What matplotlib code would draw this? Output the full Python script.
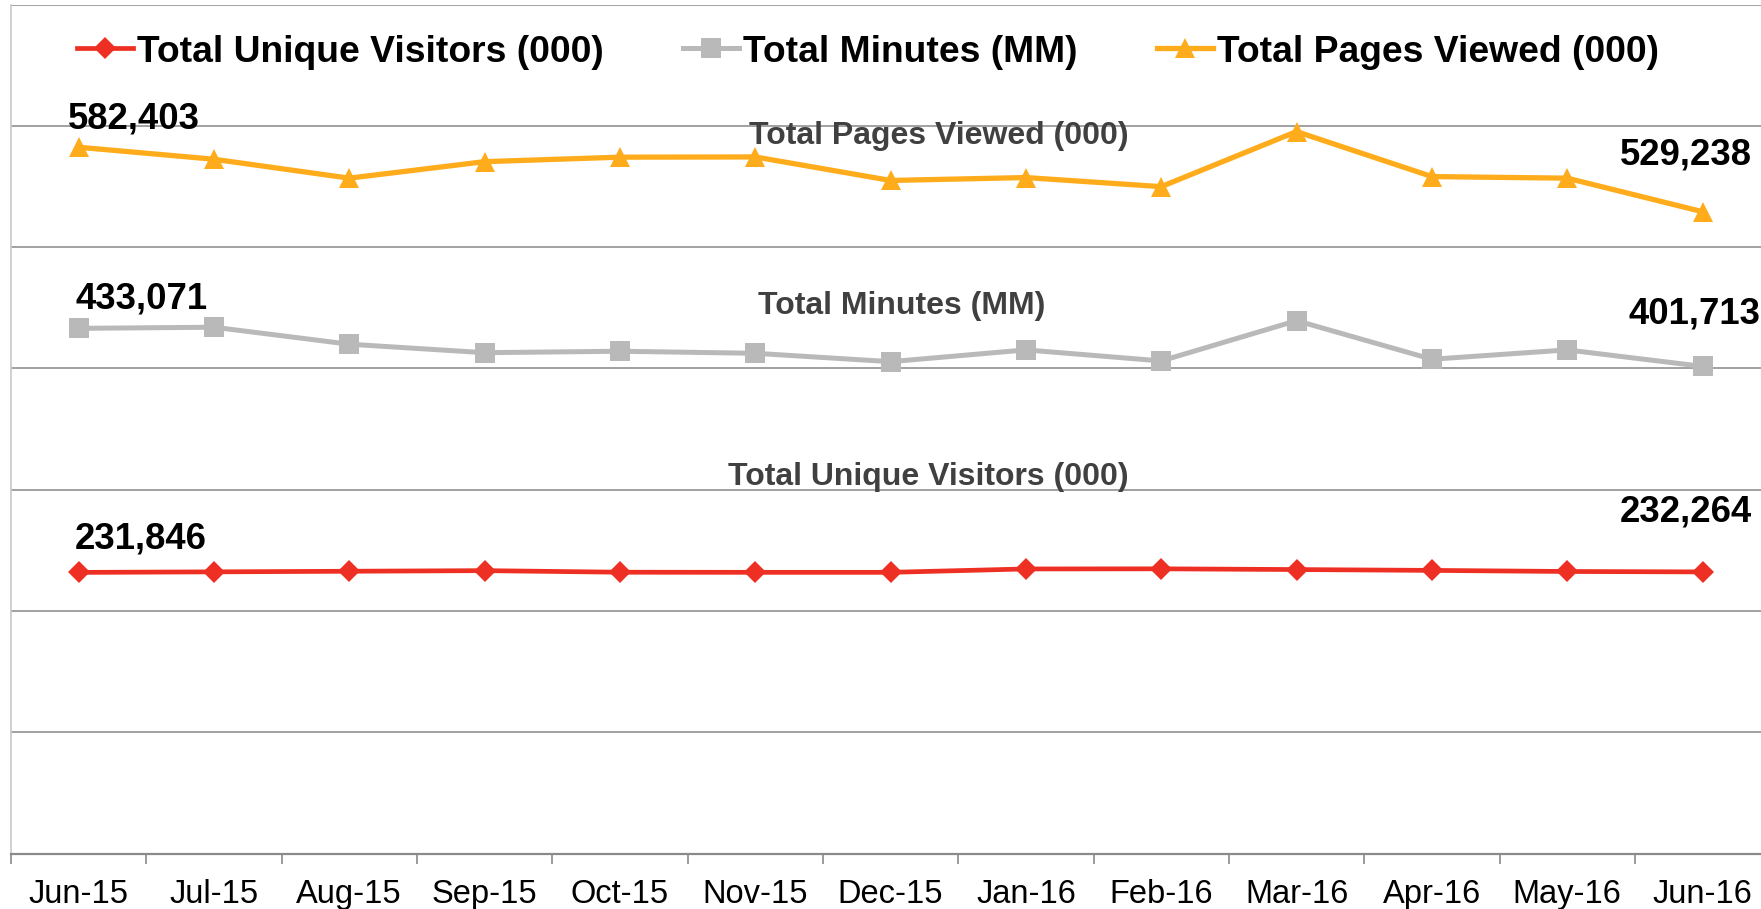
import matplotlib
matplotlib.use("Agg")
import matplotlib.pyplot as plt

plt.rcParams['font.family'] = ['Liberation Sans', 'DejaVu Sans']

months = ["Jun-15", "Jul-15", "Aug-15", "Sep-15", "Oct-15", "Nov-15", "Dec-15",
          "Jan-16", "Feb-16", "Mar-16", "Apr-16", "May-16", "Jun-16"]
visitors = [231846, 232300, 232800, 233300, 232000, 231900, 231900,
            234700, 234800, 234200, 233500, 232600, 232264]
minutes = [433071, 434000, 420000, 413000, 414200, 412500, 405600,
           415300, 406200, 439400, 407600, 415300, 401713]
pages = [582403, 572500, 556900, 570500, 574200, 574400, 555000,
         557400, 549900, 595300, 558200, 556900, 529238]
series_names = ["Total Unique Visitors (000)", "Total Minutes (MM)", "Total Pages Viewed (000)"]
grid_values = [100000, 200000, 300000, 400000, 500000, 600000, 700000]

RED = "#EE3024"
GRAY = "#B9B9B9"
ORANGE = "#FFAC1C"

W, H = 1761, 909
fig = plt.figure(figsize=(W / 100, H / 100), dpi=100)
left_px, right_px = 10.9, 1770.2
bottom_px, top_px = 853.6, 4.6
ax = fig.add_axes([left_px / W, 1 - bottom_px / H, (right_px - left_px) / W, (bottom_px - top_px) / H])

x = list(range(len(months)))
styles = [
    (visitors, RED, "D", 11, 3.4),
    (minutes, GRAY, "s", 14, 3.6),
    (pages, ORANGE, "^", 15, 3.8),
]
handles = []
for (vals, col, mk, ms, lw), name in zip(styles, series_names):
    ln, = ax.plot(x, vals, color=col, marker=mk, markersize=ms, linewidth=lw,
                  markeredgewidth=0, zorder=3, label=name)
    handles.append(ln)

ax.set_xlim(-0.5, len(months) - 0.5)
ax.set_ylim(0, 700000)

for g in grid_values:
    ax.axhline(g, color="#9A9A9A", linewidth=1.3, zorder=1)

ax.set_yticks([])
ax.set_xticks([i - 0.5 for i in range(len(months) + 1)])
ax.set_xticklabels([])
ax.set_xticks(x, minor=True)
ax.set_xticklabels(months, minor=True, fontsize=23.5)
ax.tick_params(axis="x", which="major", length=7, width=1.2, color="#8A8A8A", direction="out")
ax.tick_params(axis="x", which="minor", length=0, pad=18)
for s in ["top", "right"]:
    ax.spines[s].set_visible(False)
ax.spines["bottom"].set_color("#8A8A8A")
ax.spines["bottom"].set_linewidth(1.6)
ax.spines["left"].set_color("#C8C8C8")
ax.spines["left"].set_linewidth(1.2)

# value labels at first and last points
lab_first = [(-3.4, 33), (-3.4, 29), (-11, 28)]
lab_last = [(49, 60), (58, 52), (49, 57)]
for (vals, *_), (dx1, dy1), (dx2, dy2) in zip(styles, lab_first, lab_last):
    ax.annotate(f"{vals[0]:,}", (x[0], vals[0]), xytext=(dx1, dy1), textcoords="offset pixels",
                ha="left", va="center", fontsize=26.3, fontweight="bold", color="black",
                annotation_clip=False, zorder=5)
    ax.annotate(f"{vals[-1]:,}", (x[-1], vals[-1]), xytext=(dx2, dy2), textcoords="offset pixels",
                ha="right", va="center", fontsize=26.3, fontweight="bold", color="black",
                annotation_clip=False, zorder=5)

# series title labels
title_pos = [(928, 477), (902, 306), (939, 136)]
for name, (px, py) in zip(series_names, title_pos):
    fig.text(px / W, 1 - py / H, name, ha="center", va="center", fontsize=23,
             fontweight="bold", color="#404040", zorder=6)

fig.legend(handles=handles, loc="center", bbox_to_anchor=(868 / W, 1 - 52 / H),
           ncol=3, frameon=False, prop={"size": 26.8, "weight": "bold"},
           handlelength=1.5, handletextpad=0.1, columnspacing=2.15, borderpad=0,
           borderaxespad=0)

fig.savefig("out.png", dpi=100)
